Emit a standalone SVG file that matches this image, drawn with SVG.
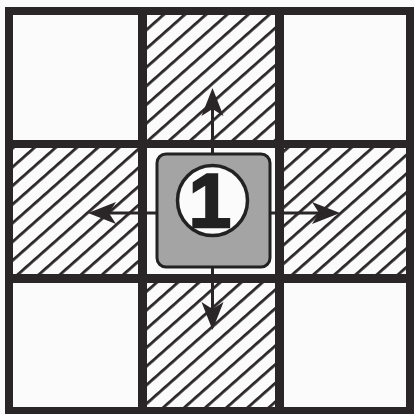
<svg xmlns="http://www.w3.org/2000/svg" width="414" height="414" viewBox="0 0 414 414">
  <style>
    .frame { fill: #2a2627; }
    .hatch { fill: url(#hatch); }
    .shaft { stroke: #2a2627; stroke-width: 3; fill: none; marker-end: url(#head); }
    .num { font-family: "Liberation Sans", Arial, sans-serif; font-weight: 900; font-size: 76px; fill: #222; stroke: #222; stroke-width: 2.5; stroke-linejoin: miter; }
  </style>
  <defs>
    <pattern id="hatch" patternUnits="userSpaceOnUse" width="14" height="14" patternTransform="rotate(-41.5)">
      <rect x="0" y="0" width="14" height="14" fill="#fbfbfb"/>
      <rect x="0" y="6" width="14" height="2.8" fill="#2a2627"/>
    </pattern>
    <marker id="head" viewBox="-29 -12 30 24" markerWidth="30" markerHeight="24" refX="-10" refY="0" orient="auto" markerUnits="userSpaceOnUse">
      <path d="M0,0 L-28,-11 L-21,0 L-28,11 Z" fill="#2a2627"/>
    </marker>
  </defs>

  <rect x="0" y="0" width="414" height="414" fill="#fbfbfb"/>

  <g id="cells">
    <rect id="cell-top" class="hatch" x="146" y="15" width="130" height="126"/>
    <rect id="cell-left" class="hatch" x="13" y="148" width="126" height="127"/>
    <rect id="cell-right" class="hatch" x="283" y="148" width="125" height="127"/>
    <rect id="cell-bottom" class="hatch" x="146" y="282" width="130" height="127"/>
  </g>

  <g id="grid">
    <rect class="frame" x="5" y="7" width="409" height="8"/>
    <rect class="frame" x="5" y="407" width="409" height="7"/>
    <rect class="frame" x="5" y="7" width="8" height="407"/>
    <rect class="frame" x="406" y="7" width="8" height="407"/>
    <rect class="frame" x="138" y="7" width="9" height="407"/>
    <rect class="frame" x="275" y="7" width="9" height="407"/>
    <rect class="frame" x="5" y="140" width="409" height="8"/>
    <rect class="frame" x="5" y="274" width="409" height="9"/>
  </g>

  <g id="connectors">
    <line class="shaft" x1="212.5" y1="154" x2="212.5" y2="98"/>
    <line class="shaft" x1="157" y1="213" x2="98" y2="213"/>
    <line class="shaft" x1="270" y1="213" x2="330" y2="213"/>
    <line class="shaft" x1="212.5" y1="267" x2="212.5" y2="320"/>
  </g>

  <g id="node-1">
    <rect x="157" y="154" width="113" height="113" rx="9" fill="#a4a4a4" stroke="#222" stroke-width="3"/>
    <circle cx="212.5" cy="200.5" r="35" fill="#fbfbfb" stroke="#222" stroke-width="3.5"/>
    <text class="num" x="210" y="227" text-anchor="middle">1</text>
  </g>
</svg>
